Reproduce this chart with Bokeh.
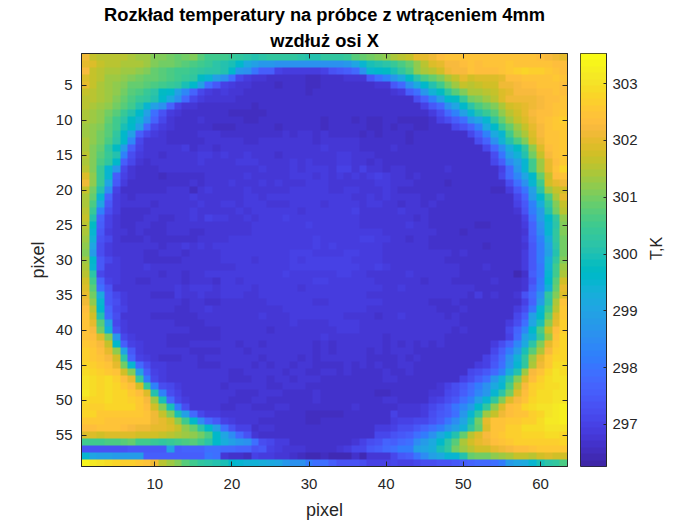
import numpy as np
from bokeh.plotting import figure
from bokeh.layouts import row
from bokeh.models import LinearColorMapper, LinearAxis, FixedTicker, Range1d, Title
from bokeh.embed import file_html
from bokeh.resources import INLINE

title_line_1 = "Rozkład temperatury na próbce z wtrąceniem 4mm"
title_line_2 = "wzdłuż osi X"
x_label = "pixel"
y_label = "pixel"
cbar_label = "T,K"
x_ticks = [10, 20, 30, 40, 50, 60]
y_ticks = [5, 10, 15, 20, 25, 30, 35, 40, 45, 50, 55]
cbar_ticks = [297, 298, 299, 300, 301, 302, 303]
t_min = 296.26
t_max = 303.53

# parula colour table
parula = [
 (.2422,.1504,.6603),(.2504,.1650,.7076),(.2578,.1818,.7511),(.2647,.1978,.7952),
 (.2706,.2147,.8364),(.2751,.2342,.8710),(.2783,.2559,.8991),(.2803,.2782,.9221),
 (.2813,.3006,.9414),(.2810,.3228,.9579),(.2795,.3447,.9717),(.2760,.3667,.9829),
 (.2699,.3892,.9906),(.2602,.4123,.9952),(.2440,.4358,.9988),(.2206,.4603,.9973),
 (.1963,.4847,.9892),(.1834,.5074,.9798),(.1786,.5289,.9682),(.1764,.5499,.9520),
 (.1687,.5703,.9359),(.1540,.5902,.9218),(.1460,.6091,.9079),(.1380,.6276,.8973),
 (.1248,.6459,.8883),(.1113,.6635,.8763),(.0952,.6798,.8598),(.0689,.6948,.8394),
 (.0297,.7082,.8163),(.0036,.7203,.7917),(.0067,.7312,.7660),(.0433,.7411,.7394),
 (.0964,.7500,.7120),(.1408,.7584,.6842),(.1717,.7670,.6554),(.1938,.7758,.6251),
 (.2161,.7843,.5923),(.2470,.7918,.5567),(.2906,.7973,.5188),(.3406,.8008,.4789),
 (.3909,.8029,.4354),(.4456,.8024,.3909),(.5044,.7993,.3480),(.5616,.7942,.3045),
 (.6174,.7876,.2612),(.6720,.7793,.2227),(.7242,.7698,.1910),(.7738,.7598,.1646),
 (.8203,.7498,.1535),(.8634,.7406,.1596),(.9035,.7330,.1774),(.9393,.7288,.2100),
 (.9728,.7298,.2394),(.9956,.7434,.2371),(.9970,.7659,.2199),(.9952,.7861,.1990),
 (.9892,.8134,.1756),(.9786,.8350,.1556),(.9676,.8620,.1480),(.9610,.8890,.1537),
 (.9597,.9135,.1423),(.9628,.9373,.1265),(.9691,.9606,.1064),(.9769,.9839,.0805),
]
palette = ["#%02x%02x%02x" % tuple(int(round(c * 255)) for c in rgb) for rgb in parula]

# Temperature, one string per image row, one character per cell.
# Characters are steps of (t_max - t_min) / 63 above t_min.
levels = "0123456789abcdefghijklmnopqrstuvwxyzABCDEFGHIJKLMNOPQRSTUVWXYZ+*"
rows = [
"OKJJJJIHH FFEDEFCAA Azyxwxyyy yxwwyyyzC DEFGIJKNN OQRRRRRRR RRRRRQPON",
"NMKJJIIIH FEEDCBAzx wvtpnllkk kkkkkkklo svwxzBDGJ MNPPQRQRR RSRRRRRQQ",
"PKJIIHHGF DCBAAzyxx wtlkfbb65 555569abd kstuvyBGI JLOPPRQQQ RSTUTTSRQ",
"MKJHHGFED DCBAzyusn ke7544333 332233344 4aehlpuxB DFIKNLMMM NQQRRRRSR",
"NKIHGFDDC BAzyvtnea 654433323 332233333 3344adkpt wAEHKJKLL OOPQQRRRQ",
"KJIHGECBz xutnic754 544333333 332333333 333345bel ruyCFIIJK MNPPPQQRQ",
"JJIHFDBzy wtpkd7544 443333333 333333333 33333338c hntuzEFHJ MOOOOPQQR",
"JIHGECAws nkc644333 333323333 333333333 333333336 adkotxBDF ILMNOPQRR",
"IHGECzwtn e95433333 322222333 333333333 333333333 58dhnswzC GJLNPQQRS",
"IHGDAxurk c74333433 333223333 333323332 322332222 368belosy DHKMOQRST",
"HGFCAvtnd 754333332 223333323 333323333 322323322 33379chpt zDHKNPRSS",
"HGECytnb7 543333444 333333334 344343333 232333233 333337bhp sAFIMPRRS",
"IGEBxti74 443333344 444334444 444344444 333333233 3333338ck rwBFLORRS",
"IFDyumb64 444453443 444444444 444454444 333343333 33333337d jquyGMQRS",
"JFCzwh854 434444554 544544434 444444554 443333333 333333338 fnrwEKPRS",
"IFBytb743 444444544 445554444 545444554 434333333 333333337 bjnsAHNQS",
"JFzsl7433 344444444 444445444 545554664 644344333 334333333 6dlsAHNRU",
"MGzsb6433 323333344 444544444 555454545 456544343 333333333 7diotDKQR",
"OGzoa5333 333334344 454445454 445554444 445544433 332333333 38eksALNO",
"KEwj63333 334442454 444544444 555554455 444543333 333333332 25afnxHKL",
"IDsc54344 444445444 444554555 555555554 454544443 343333333 337cmtBIN",
"IBoa54444 344444544 554555444 555545555 455443443 433333333 336ahqyFK",
"Jzh853333 444445444 445455555 545555556 444445444 333333333 3349gmwEJ",
"Kwc643334 433445465 544545556 555555555 444444434 333333333 3336emtyG",
"Jub643344 334444444 444455555 556555555 444444544 333333223 3335cksxF",
"Isa544343 334443344 444455555 555555555 555444444 433323333 3334cjsyF",
"Hr9743334 333333444 455555555 555655555 665544344 333333333 3335bhqyE",
"Go8544444 434454545 555555555 555656555 555444444 333333323 3334agoxE",
"Fm8544443 344434444 555555555 666555566 555444444 444343333 3335agnwE",
"Hta754443 333344444 555545555 656666665 555444444 443333333 3335agqyF",
"Isa554445 444444444 445555555 666666666 556544444 444433343 3335afrAH",
"Jx7554444 434434455 555555556 555555665 544444544 444433333 3313bfsAI",
"LAc654433 444434443 554555555 555665555 554444443 444333334 33349gtCL",
"MCe944444 444545554 555545555 545555555 555445444 444444333 3334bhrDN",
"NEpa75444 333544544 555445555 555555555 544444444 444443534 3349dkyFM",
"OGsa85444 444434433 444444555 555445555 555444444 333433333 3336cmxIR",
"QJtc76444 444334454 444444445 555555555 544444444 433343333 3358fsAJS",
"RLwd84444 333333444 444445444 555555544 443445444 443433333 337bntDMS",
"RNCn75444 444333344 444444444 544445555 444444444 444433333 358eovGNT",
"RPEr95444 444443333 444444344 444444555 444444444 444343333 37citBKQT",
"RQMFl7544 443333333 444444444 444454444 444344444 443333333 36dnrzHRU",
"SRPKtb654 443334444 443443444 444343444 444343434 343333335 8cipxFNSU",
"TSQNGoa54 444443333 444344444 444343444 434344433 333333337 bgmvCIPTU",
"TSRPLxc65 433344344 444443444 434344444 433334343 333333369 dkryHNSUU",
"UTSRNEsd8 554444333 444434344 344333343 434334433 33333356a elsyIOSVV",
"VUTSRLFnb 654444444 433444443 443344343 333433433 33333 78ad hqwHPRUWV",
"WVUVTQNzg 754444444 433344344 344433333 333443333 333368bel rxFMQTVWW",
"WVUVUSQLy h87544444 344444334 443333333 333333333 3468adgkp sBJPTUVVW",
"XVUVUUSQM wh8644444 443334443 333433333 332233333 4478beils xEMQTVVWW",
"VUUVUUTSP Hvd754444 433344333 333433333 333443333 568aehnsy FMPRUVVWW",
"UTTUUUUSQ LFvg84444 334433344 333333334 333334445 79bfimtyG MQRUVWWXY",
"UUSSSSSSR OKFvnd755 444444433 332222233 333364445 8abelsyHK OQRRTUWXY",
"SSSRRRRRR ONLGAtjda 654443333 332233333 333356677 9bfjovENR RSSTTVXXY",
"QQRRRQPOO NNMKGDxtn e96634433 333333333 335568 8ac egknryDMR RTTVVVWWW",
"MMLMMMMLL LKJIHGEBt ojd943333 333333333 33779abeg kpswDJMPR STTUUUVVU",
"AAABBCDAA zyzABCAxt qnlke8755 333333334 689cbdejm ptxCILNOQ RSTTTTTTU",
"999999aaa aanbcccee ddcc9a654 443333457 7abdeggno qvyEHJLLN OPQQRSSSS",
"sonnmmmmb bbbbbbbfe 433265544 321121113 14447abfj npsswDEEG HIKKJLMLL",
"ZXWVUTTSR OJHFCAyxw vtsrrqpol kkgeeb999 866676678 899abcdde gmopsvxyB",
]
step = (t_max - t_min) / 63
temperature = np.array(
    [[t_min + step * (levels.index(ch) + 0.5) for ch in r.replace(" ", "")] for r in rows]
)
n_rows, n_cols = temperature.shape
# Each cell is repeated so that the browser's image scaling keeps its edges sharp.
blocks = np.repeat(np.repeat(temperature, 8, axis=0), 8, axis=1)

dark = "#262626"
font = "Liberation Sans"
mapper = LinearColorMapper(palette=palette, low=t_min, high=t_max)

p = figure(
    width=570, height=520, frame_width=486, frame_height=413,
    min_border_left=81, min_border_right=3, min_border_top=53, min_border_bottom=54,
    x_range=Range1d(0.5, n_cols + 0.5), y_range=Range1d(n_rows + 0.5, 0.5),
    toolbar_location=None, output_backend="svg", tools="",
)
p.image(image=[blocks], x=0.5, y=0.5, dw=n_cols, dh=n_rows, color_mapper=mapper)
p.grid.visible = False
p.outline_line_color = dark
p.outline_line_width = 1
p.title = None

for ax, ticks, label in ((p.xaxis[0], x_ticks, x_label), (p.yaxis[0], y_ticks, y_label)):
    ax.ticker = FixedTicker(ticks=ticks)
    ax.axis_label = label
    ax.axis_label_text_font = font
    ax.axis_label_text_font_size = "18px"
    ax.axis_label_text_font_style = "normal"
    ax.axis_label_text_color = dark
    ax.major_label_text_font = font
    ax.major_label_text_font_size = "15px"
    ax.major_label_text_color = dark
    ax.major_tick_in = 5
    ax.major_tick_out = 0
    ax.minor_tick_line_color = None
    ax.major_tick_line_color = dark
    ax.axis_line_color = dark
p.xaxis[0].major_label_standoff = 12
p.yaxis[0].major_label_standoff = 9
p.xaxis[0].axis_label_standoff = 8
p.yaxis[0].axis_label_standoff = 5

for side, ticks in (("above", x_ticks), ("right", y_ticks)):
    ax = LinearAxis(ticker=FixedTicker(ticks=ticks),
                    major_label_overrides={t: "" for t in ticks},
                    major_label_text_font_size="0px",
                    major_tick_in=5, major_tick_out=0, minor_tick_line_color=None,
                    major_tick_line_color=dark, axis_line_color=dark, major_label_standoff=0)
    p.add_layout(ax, side)

for line, standoff in ((title_line_2, 5), (title_line_1, 2)):
    p.add_layout(Title(text=line, align="center", text_font=font, text_font_size="18.3px",
                       text_font_style="bold", text_color="#000000", standoff=standoff), "above")

c = figure(
    width=126, height=520, frame_width=26, frame_height=413,
    min_border_left=10, min_border_right=90, min_border_top=53, min_border_bottom=54,
    x_range=Range1d(0, 1), y_range=Range1d(t_min, t_max),
    toolbar_location=None, output_backend="svg", tools="",
    y_axis_location="right",
)
c.image(image=[np.linspace(t_min, t_max, 64).reshape(-1, 1)], x=0, y=t_min, dw=1, dh=t_max - t_min,
        color_mapper=mapper)
c.grid.visible = False
c.xaxis.visible = False
c.outline_line_color = dark
cax = c.yaxis[0]
cax.ticker = FixedTicker(ticks=cbar_ticks)
cax.axis_label = cbar_label
cax.axis_label_orientation = 1.5708
cax.axis_label_text_font = font
cax.axis_label_text_font_size = "16px"
cax.axis_label_text_font_style = "normal"
cax.axis_label_text_color = dark
cax.major_label_text_font = font
cax.major_label_text_font_size = "15px"
cax.major_label_text_color = dark
cax.major_tick_in = 3
cax.major_tick_out = 0
cax.minor_tick_line_color = None
cax.major_tick_line_color = dark
cax.axis_line_color = dark
cax.major_label_standoff = 6
cax.axis_label_standoff = 16

layout = row(p, c, spacing=0)
open("out.html", "w").write(file_html(layout, INLINE))
